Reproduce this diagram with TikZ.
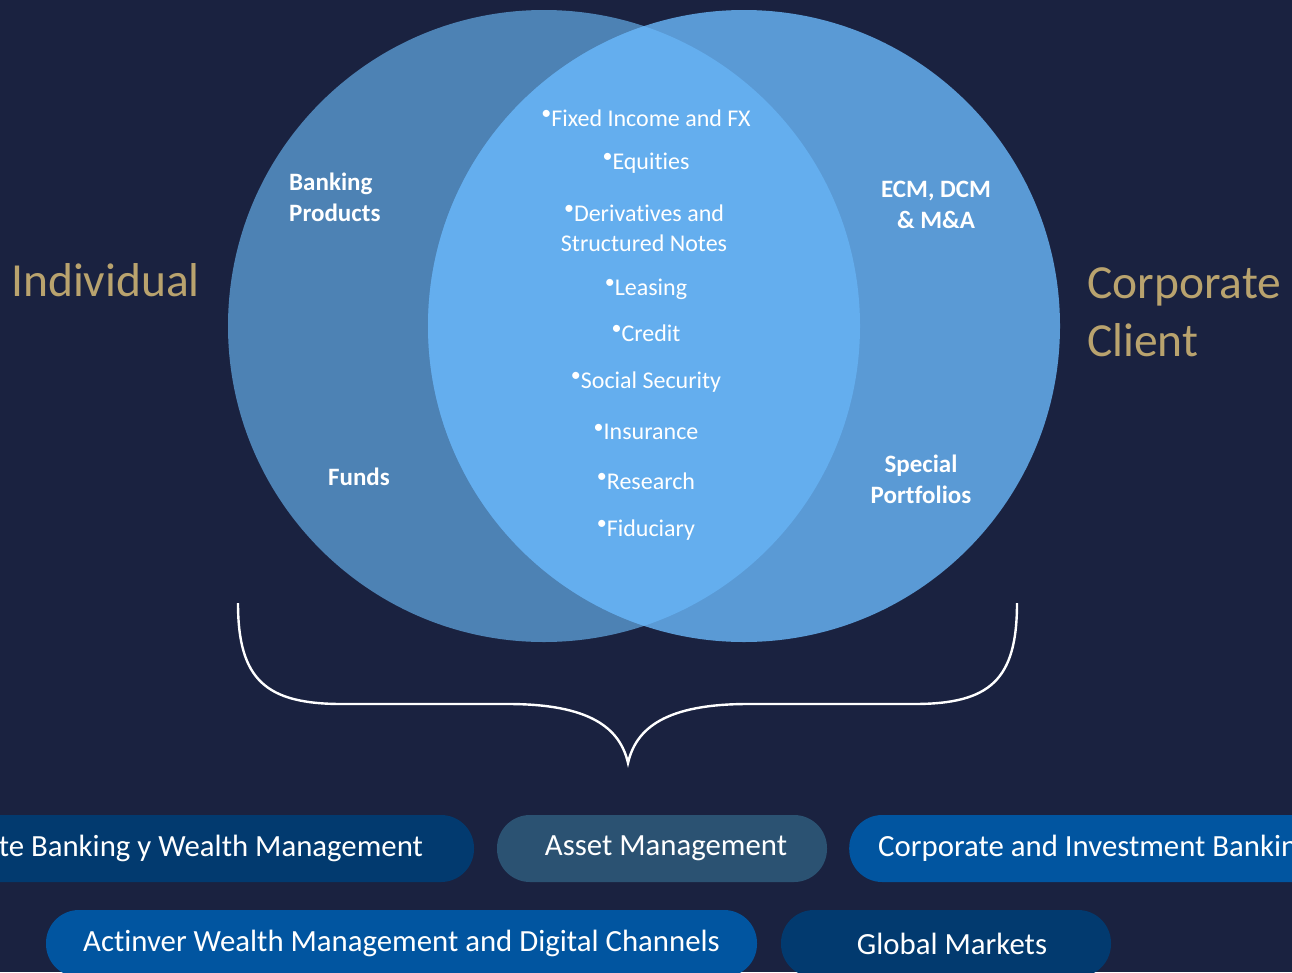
\documentclass[tikz,border=0pt]{standalone}
\usepackage{fontspec}
\setmainfont{Carlito}[Ligatures=NoCommon]
\usepackage{tikz}
\usetikzlibrary{positioning}
\definecolor{bgnavy}{HTML}{1A2240}
\definecolor{leftblue}{HTML}{4D82B4}
\definecolor{rightblue}{HTML}{5A9AD5}
\definecolor{midblue}{HTML}{64AEEE}
\definecolor{goldtext}{HTML}{B9A36E}
\definecolor{pilldark}{HTML}{023A6F}
\definecolor{pillblue}{HTML}{0155A0}
\definecolor{pillgrey}{HTML}{2B5272}
\tikzset{circly/.style={circle,inner sep=0,minimum size=632pt},
    pilly/.style={rounded corners=33pt,minimum height=67pt,inner sep=0,text=white,font=\fontsize{30.8}{36}\selectfont},
    itemnode/.style={text=white,font=\fontsize{24}{30}\selectfont,align=center,inner sep=0},
    boldnode/.style={text=white,font=\bfseries\fontsize{25}{31}\selectfont,inner sep=0},
    clientnode/.style={text=goldtext,font=\fontsize{47.5}{58}\selectfont,align=left,inner sep=0,anchor=west}
}
\newcommand{\bul}{\raisebox{.28em}{\fontsize{20}{20}\selectfont\textbullet}}

\begin{document}
\begin{tikzpicture}[x=1pt,y=-1pt]

\fill [bgnavy] (0,0) rectangle (1292,972);
\useasboundingbox (0,0) rectangle (1292,972);

% the two sets and their overlap
\node (indiv) [circly,fill=leftblue] at (544,326) {};
\node (corp) [circly,fill=rightblue] at (744,326) {};
\begin{scope}
    \clip (544,326) circle (316);
    \fill [midblue] (744,326) circle (316);
\end{scope}

\node (individual) [clientnode] at (11,280) {Individual};
\node (corpclient) [clientnode] at (1087,312) {Corporate\\Client};

\node (banking) [boldnode,align=left,anchor=west] at (289,197) {Banking\\Products};
\node (funds) [boldnode] at (359,477) {Funds};
\node (ecm) [boldnode,align=center] at (936,205) {ECM, DCM\\\& M\&A};
\node (special) [boldnode,align=center] at (921,479) {Special\\Portfolios};

% shared products
\foreach \y/\item [count=\i] in {118/Fixed Income and FX,163/Equities,289/Leasing,333/Credit,382/Social Security,432/Insurance,481/Research,530/Fiduciary}
    \node (item\i) [itemnode] at (646,\y) {\bul\item};
\node (deriv) [itemnode] at (644,228) {\bul Derivatives and\\Structured Notes};

% brace
\coordinate (braceL) at (238,603);
\coordinate (braceR) at (1017,603);
\coordinate (braceTip) at (628,763);
\draw [white,line width=2.4pt] (braceL) .. controls (238,680) and (266,704) .. (342,704) -- (508,704)
    .. controls (590,704) and (620,728) .. (braceTip)
    .. controls (636,728) and (666,704) .. (748,704) -- (914,704)
    .. controls (990,704) and (1017,680) .. (braceR);

% business lines
\node (pbwm) [pilly,fill=pilldark,minimum width=588pt] at (180,848.5) {Private Banking y Wealth Management};
\node (am) [pilly,fill=pillgrey,minimum width=330pt] at (662,848.5) {\hspace{8pt}Asset Management};
\node (cib) [pilly,fill=pillblue,anchor=west,inner xsep=29pt] at (849,848.5) {\makebox[520pt][l]{Corporate and Investment Banking}};
\node (awm) [pilly,fill=pillblue,minimum width=711pt] at (401.5,943.5) {Actinver Wealth Management and Digital Channels};
\node (gm) [pilly,fill=pilldark,minimum width=330pt] at (946,943.5) {\hspace{12pt}Global Markets};

\end{tikzpicture}
\end{document}
